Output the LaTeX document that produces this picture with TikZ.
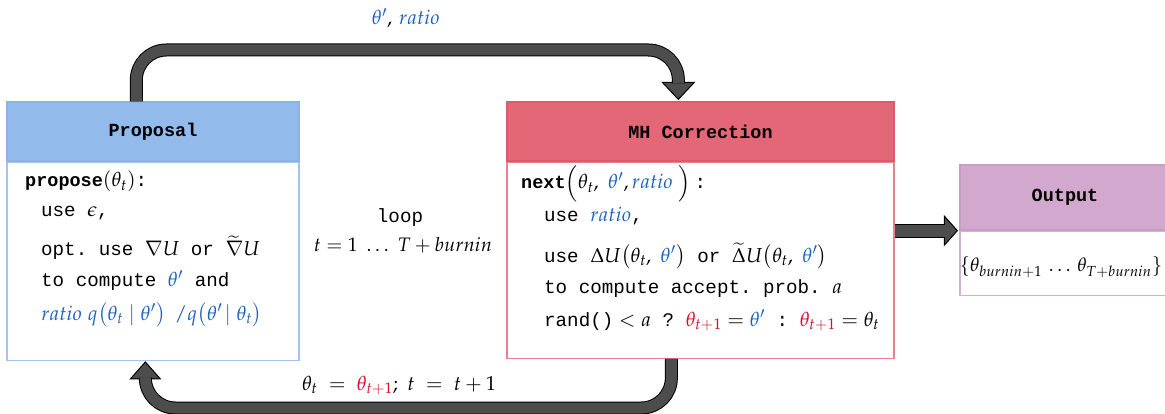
\documentclass[tikz,border=0pt]{standalone}
\usepackage{amsmath}
\usepackage{mathpazo}
\usepackage[no-math]{fontspec}
\setmonofont{Liberation Mono}
\definecolor{myblue}{HTML}{1B62C0}
\definecolor{myred}{HTML}{D2102C}
\definecolor{propfill}{HTML}{92BBEC}
\definecolor{propdraw}{HTML}{8DB2E6}
\definecolor{propbody}{HTML}{A3C4F0}
\definecolor{mhfill}{HTML}{E36776}
\definecolor{mhdraw}{HTML}{DC5A6B}
\definecolor{mhbody}{HTML}{E8808E}
\definecolor{outfill}{HTML}{D3A8CF}
\definecolor{outdraw}{HTML}{C99CC6}
\definecolor{outbody}{HTML}{D6B0D3}
\definecolor{arrgray}{HTML}{4D4D4D}
\newcommand\myb[1]{{\color{myblue}#1}}
\newcommand\myr[1]{{\color{myred}#1}}
\newcommand\mt[1]{{\fontsize{19.2}{22}\selectfont\ttfamily #1}}
\newcommand\mtb[1]{{\fontsize{18.5}{22}\selectfont\ttfamily\bfseries #1}}
\begin{document}
\begin{tikzpicture}[x=1pt,y=-1pt,
  every node/.style={font=\fontsize{20.2}{24}\selectfont},
  hdr/.style={rectangle, line width=1.3pt, inner sep=0pt, font=\fontsize{18.5}{22}\selectfont\ttfamily\bfseries},
  bodybox/.style={rectangle, line width=1.3pt, inner sep=0pt, fill=white},
  txtline/.style={anchor=base west, inner sep=0pt},
  txtmid/.style={anchor=base, inner sep=0pt},
  fatline/.style={draw=black, line width=1pt, double=arrgray, double distance=11pt},
  fathead/.style={fill=arrgray, draw=black, line width=1pt, line join=miter}]
\useasboundingbox (0,0) rectangle (1165,414);

% Proposal
\node[hdr, fill=propfill, draw=propdraw, minimum width=292pt, minimum height=59pt] (ph) at (153,131.5) {Proposal};
\node[bodybox, draw=propbody, minimum width=292pt, minimum height=198pt, anchor=north] (pb) at (ph.south) {};
\node[txtline] (p1) at (25,187) {\mtb{propose}$(\theta_t)$\mt{:}};
\node[txtline] (p2) at (41,217) {\mt{use }$\epsilon$\mt{,}};
\node[txtline] (p3) at (41,255) {\mt{opt. use }$\nabla U$\mt{ or }$\widetilde{\nabla}U$};
\node[txtline] (p4) at (41,287) {\mt{to compute }$\myb{\theta'}$\mt{ and}};
\node[txtline] (p5) at (41,320) {$\myb{ratio\; q\bigl(\theta_t \mid \theta'\bigr)\;\,/q\bigl(\theta'\!\mid \theta_t\bigr)}$};

% MH Correction
\node[hdr, fill=mhfill, draw=mhdraw, minimum width=387pt, minimum height=59pt] (mh) at (700.5,131.5) {MH Correction};
\node[bodybox, draw=mhbody, minimum width=387pt, minimum height=196pt, anchor=north] (mb) at (mh.south) {};
\node[txtline] (m1) at (521,189) {\mtb{next}$\Bigl(\theta_t,\ \myb{\theta'},\myb{ratio}\;\Bigr)$\,\mt{:}};
\node[txtline] (m2) at (544,222) {\mt{use }$\myb{ratio}$\mt{,}};
\node[txtline] (m3) at (544,262) {\mt{use }$\Delta U\bigl(\theta_t,\ \myb{\theta'}\bigr)$\mt{ or }$\widetilde{\Delta}U\bigl(\theta_t,\ \myb{\theta'}\bigr)$};
\node[txtline] (m4) at (544,294) {\mt{to compute accept. prob. }$a$};
\node[txtline] (m5) at (544,326) {\mt{rand()}$\;<a$\mt{ ? }$\myr{\theta_{t+1}}=\myb{\theta'}$\mt{ : }$\myr{\theta_{t+1}}=\theta_t$};

% Output
\node[hdr, fill=outfill, draw=outdraw, minimum width=210pt, minimum height=65pt] (oh) at (1065,197.5) {Output};
\node[bodybox, draw=outbody, minimum width=210pt, minimum height=64pt, anchor=north] (ob) at (oh.south) {};
\node[txtmid, font=\fontsize{19.2}{22}\selectfont] (o1) at (1061,272) {$\{\theta_{burnin+1}\,\dots\,\theta_{T+burnin}\}$};

% centre text
\node[txtmid] (loop) at (400,223) {\mt{loop}};
\node[txtmid, font=\fontsize{19.5}{22}\selectfont] (rng) at (403,252) {$t=1\;\dots\;T+burnin$};

% top arrow
\coordinate (topmid) at (400,50);
\coordinate (c1) at ([xshift=172pt,yshift=19pt]mh.north west);
\coordinate (t1) at ([xshift=172pt,yshift=2pt]mh.north west);
\filldraw[fathead] ([xshift=-16pt]c1) -- ([xshift=16pt]c1) -- (t1) -- cycle;
\draw[fatline, rounded corners=30pt] ([xshift=130pt]ph.north west) |- (topmid) -| ([yshift=-1pt]c1);
\node[txtmid] (tl) at (406,25) {$\myb{\theta'},\myb{\,ratio}$};

% bottom arrow
\coordinate (botmid) at (400,408);
\coordinate (c2) at ([xshift=139pt,yshift=-18pt]pb.south west);
\coordinate (t2) at ([xshift=139pt,yshift=-1pt]pb.south west);
\filldraw[fathead] ([xshift=-15pt]c2) -- ([xshift=15pt]c2) -- (t2) -- cycle;
\draw[fatline, rounded corners=30pt] ([xshift=165pt]mb.south west) |- (botmid) -| ([yshift=1pt]c2);
\node[txtmid] (bl) at (399,390) {$\theta_t\;=\;\myr{\theta_{t+1}};\ t\;=\;t+1$};

% output arrow
\coordinate (c3) at ([xshift=-15pt]oh.south west);
\coordinate (t3) at ([xshift=-2pt]oh.south west);
\filldraw[fathead] ([yshift=-14.5pt]c3) -- ([yshift=14.5pt]c3) -- (t3) -- cycle;
\draw[draw=black, line width=1pt, double=arrgray, double distance=12pt] (mb.east |- oh.south) -- ([xshift=1pt]c3);
\end{tikzpicture}
\end{document}
